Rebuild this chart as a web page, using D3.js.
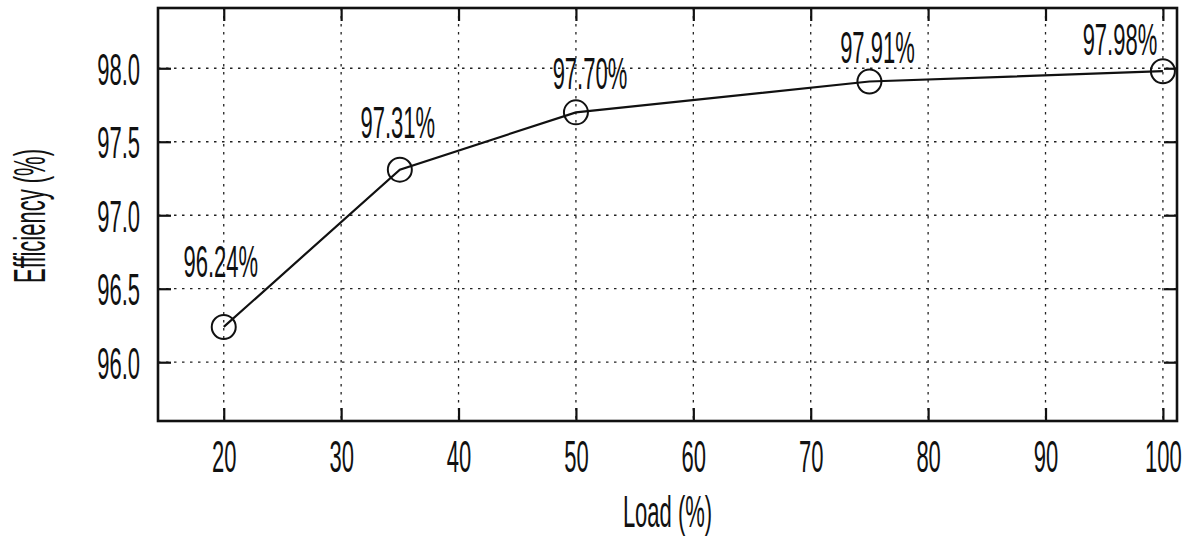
<!DOCTYPE html>
<html>
<head>
<meta charset="utf-8">
<script src="https://cdn.jsdelivr.net/npm/d3@7"></script>
<style>
  body { margin: 0; background: #fff; }
  svg text { font-family: "Liberation Sans", Arial, sans-serif; font-size: 44px; fill: #111; }
</style>
</head>
<body>
<svg id="chart"></svg>
<script>
// data
const loads = [20, 35, 50, 75, 100];
const efficiency = [96.24, 97.31, 97.70, 97.91, 97.98];
const pointLabels = ["96.24%", "97.31%", "97.70%", "97.91%", "97.98%"];
const xTicks = [20, 30, 40, 50, 60, 70, 80, 90, 100];
const yTicks = [96.0, 96.5, 97.0, 97.5, 98.0];

// label nudges in px (dx, dy from the marker)
const labelDx = [-3, -2, 14, 8, -43];
const labelDy = [-50, -32, -23, -18, -16];

const W = 1188, H = 542;
const pLeft = 158, pTop = 8, pRight = 1177, pBottom = 421;
const SX = 0.5; // narrow font look

const svg = d3.select("#chart").attr("width", W).attr("height", H);

const x = d3.scaleLinear().domain([14.4, 101.2]).range([pLeft, pRight]);
const y = d3.scaleLinear().domain([95.6, 98.41]).range([pBottom, pTop]);

// grid
const grid = svg.append("g")
  .attr("stroke", "#222")
  .attr("stroke-width", 1.3)
  .attr("stroke-dasharray", "2.5,5.5");
grid.selectAll(".vg").data(xTicks).enter().append("line")
  .attr("x1", d => x(d)).attr("x2", d => x(d))
  .attr("y1", pTop).attr("y2", pBottom);
grid.selectAll(".hg").data(yTicks).enter().append("line")
  .attr("y1", d => y(d)).attr("y2", d => y(d))
  .attr("x1", pLeft).attr("x2", pRight);

// axes with inward ticks on all four sides
const tk = 13;
const styleAxis = g => {
  g.select(".domain").remove();
  g.selectAll(".tick line").attr("stroke", "#111").attr("stroke-width", 2.2);
};
const xb = svg.append("g").attr("transform", `translate(0,${pBottom})`)
  .call(d3.axisBottom(x).tickValues(xTicks).tickSizeInner(-tk).tickSizeOuter(0))
  .call(styleAxis);
xb.selectAll(".tick text")
  .attr("y", 0).attr("dy", 0)
  .attr("transform", `translate(0,51) scale(${SX},1)`)
  .attr("fill", "#111");

svg.append("g").attr("transform", `translate(0,${pTop})`)
  .call(d3.axisTop(x).tickValues(xTicks).tickSizeInner(-tk).tickSizeOuter(0).tickFormat(""))
  .call(styleAxis);

const yl = svg.append("g").attr("transform", `translate(${pLeft},0)`)
  .call(d3.axisLeft(y).tickValues(yTicks).tickSizeInner(-tk).tickSizeOuter(0).tickFormat(d3.format(".1f")))
  .call(styleAxis);
yl.selectAll(".tick text")
  .attr("x", 0).attr("dy", "0.36em")
  .attr("transform", `translate(-18,0) scale(${SX},1)`)
  .attr("fill", "#111");

svg.append("g").attr("transform", `translate(${pRight},0)`)
  .call(d3.axisRight(y).tickValues(yTicks).tickSizeInner(-tk).tickSizeOuter(0).tickFormat(""))
  .call(styleAxis);

// frame
svg.append("rect")
  .attr("x", pLeft).attr("y", pTop)
  .attr("width", pRight - pLeft).attr("height", pBottom - pTop)
  .attr("fill", "none").attr("stroke", "#111").attr("stroke-width", 2.6);

// series
const pts = loads.map((d, i) => ({ load: d, eff: efficiency[i], label: pointLabels[i], i }));

svg.append("path")
  .datum(pts)
  .attr("fill", "none").attr("stroke", "#111").attr("stroke-width", 2.2)
  .attr("d", d3.line().x(d => x(d.load)).y(d => y(d.eff)));

svg.selectAll(".pt").data(pts).enter().append("circle")
  .attr("cx", d => x(d.load)).attr("cy", d => y(d.eff)).attr("r", 12)
  .attr("fill", "none").attr("stroke", "#111").attr("stroke-width", 2);

svg.selectAll(".lbl").data(pts).enter().append("text")
  .attr("text-anchor", "middle")
  .attr("transform", d => `translate(${x(d.load) + labelDx[d.i]},${y(d.eff) + labelDy[d.i]}) scale(${SX},1)`)
  .text(d => d.label);

// axis titles
svg.append("text")
  .attr("text-anchor", "middle")
  .attr("transform", `translate(${(pLeft + pRight) / 2},527) scale(${SX},1)`)
  .text("Load (%)");

svg.append("text")
  .attr("text-anchor", "middle")
  .attr("transform", `translate(45,216) rotate(-90) scale(${SX},1)`)
  .text("Efficiency (%)");
</script>
</body>
</html>
